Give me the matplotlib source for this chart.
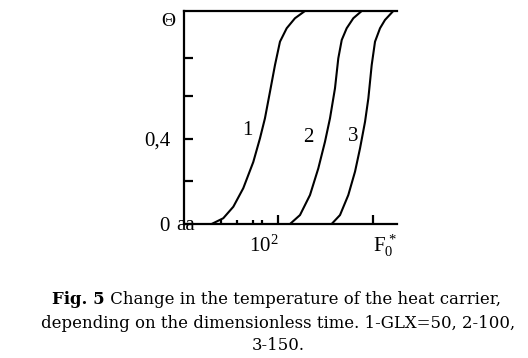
import matplotlib
matplotlib.use("Agg")
import matplotlib.pyplot as plt
from matplotlib.ticker import NullFormatter

# data (x: dimensionless time F0*, log axis; y: Theta)
x1 = [20.4, 27.0, 34.4, 43.7, 55.6, 65.3, 73.6, 83.1, 93.7, 105.7, 124.2, 151.6, 192.7]
y1 = [0.0, 0.027, 0.081, 0.168, 0.291, 0.402, 0.496, 0.621, 0.746, 0.856, 0.919, 0.966, 1.0]
x2 = [134.5, 171.1, 217.6, 265.7, 312.0, 352.0, 397.0, 430.0, 467.0, 526.0, 617.0, 755.0]
y2 = [0.0, 0.042, 0.136, 0.261, 0.386, 0.496, 0.637, 0.778, 0.864, 0.919, 0.966, 1.0]
x3 = [366.0, 448.0, 547.0, 643.0, 725.0, 818.0, 886.0, 960.0, 1040.0, 1173.0, 1322.0, 1614.0]
y3 = [0.0, 0.042, 0.136, 0.246, 0.355, 0.480, 0.590, 0.746, 0.856, 0.919, 0.958, 1.0]
curve_labels = ["1", "2", "3"]
label_x = [48.1, 209.0, 617.0]
label_y = [0.441, 0.405, 0.413]
y_ticks = [0.0, 0.2, 0.4, 0.6, 0.78]
y_ticklabels = ["0", "", "0,4", "", ""]
x_minor = [25.4, 37.3, 54.8, 68.0]
x_major = [100, 1000]
x_ticklabels = ["$10^2$", r"$\mathrm{F}_0^{\,*}$"]
y_name = "\u0398"
origin_text = "aa"
caption_bold = "Fig. 5"
caption_lines = [" Change in the temperature of the heat carrier,",
                 "depending on the dimensionless time. 1-GLX=50, 2-100,",
                 "3-150."]

plt.rcParams['font.family'] = ['Liberation Serif', 'DejaVu Serif']
plt.rcParams['mathtext.fontset'] = 'custom'
plt.rcParams['mathtext.rm'] = 'Liberation Serif'
plt.rcParams['mathtext.it'] = 'Liberation Serif'

W, H = 528, 358
fig = plt.figure(figsize=(W / 100, H / 100), dpi=100)
ax = fig.add_axes([184 / W, 1 - 224 / H, (397 - 184) / W, (224 - 11) / H])
ax.set_xscale('log')
ax.set_xlim(10.5, 1765)
ax.set_ylim(0, 1.0)

for xs, ys in [(x1, y1), (x2, y2), (x3, y3)]:
    ax.plot(xs, ys, color='black', lw=1.5, solid_joinstyle='round',
            solid_capstyle='round')
for t, lx, ly in zip(curve_labels, label_x, label_y):
    ax.text(lx, ly, t, fontsize=15, ha='center', va='center')

ax.spines['right'].set_visible(False)
for s in ['left', 'bottom', 'top']:
    ax.spines[s].set_linewidth(1.6)

ax.set_yticks(y_ticks)
ax.set_yticklabels(y_ticklabels, fontsize=15)
ax.tick_params(axis='y', direction='in', length=6.5, width=1.6, pad=10)
ax.set_xticks(x_major)
ax.set_xticklabels([""] * len(x_major))
ax.set_xticks(x_minor, minor=True)
ax.xaxis.set_minor_formatter(NullFormatter())
ax.tick_params(axis='x', which='major', direction='in', length=6.5, width=1.6)
ax.tick_params(axis='x', which='minor', direction='in', length=3, width=1.6)
# tick labels sharing one baseline: first ends at its tick, second starts at its tick
for xv, lab, ha, dx in zip(x_major, x_ticklabels, ['right', 'left'], [1, 0]):
    ax.annotate(lab, xy=(xv, H - 252), xycoords=('data', 'figure pixels'),
                xytext=(dx, 0), textcoords='offset pixels',
                fontsize=15, ha=ha, va='baseline')

fig.text(168 / W, 1 - 22 / H, y_name, fontsize=14, ha='center', va='center')
fig.text(176 / W, 1 - 225 / H, origin_text, fontsize=15, ha='left', va='center')

# caption, fitted to the reference width
cap_font = ['DejaVu Serif']
fig.canvas.draw()
r = fig.canvas.get_renderer()
probe = fig.text(0, 0, caption_lines[1], fontsize=12, family=cap_font)
w12 = probe.get_window_extent(r).width
probe.remove()
fs = 12 * 473 / w12

tb = fig.text(0, 1 - 300 / H, caption_bold, fontsize=fs, fontweight='bold',
              family=cap_font, ha='left', va='center')
tr = fig.text(0, 1 - 300 / H, caption_lines[0], fontsize=fs, family=cap_font,
              ha='left', va='center')
wb = tb.get_window_extent(r).width
wr = tr.get_window_extent(r).width
x0 = 276.5 - (wb + wr) / 2
tb.set_x(x0 / W)
tr.set_x((x0 + wb) / W)
fig.text(278.5 / W, 1 - 323 / H, caption_lines[1], fontsize=fs, family=cap_font,
         ha='center', va='center')
fig.text(278 / W, 1 - 346 / H, caption_lines[2], fontsize=fs, family=cap_font,
         ha='center', va='center')

fig.savefig("out.png", dpi=100)
